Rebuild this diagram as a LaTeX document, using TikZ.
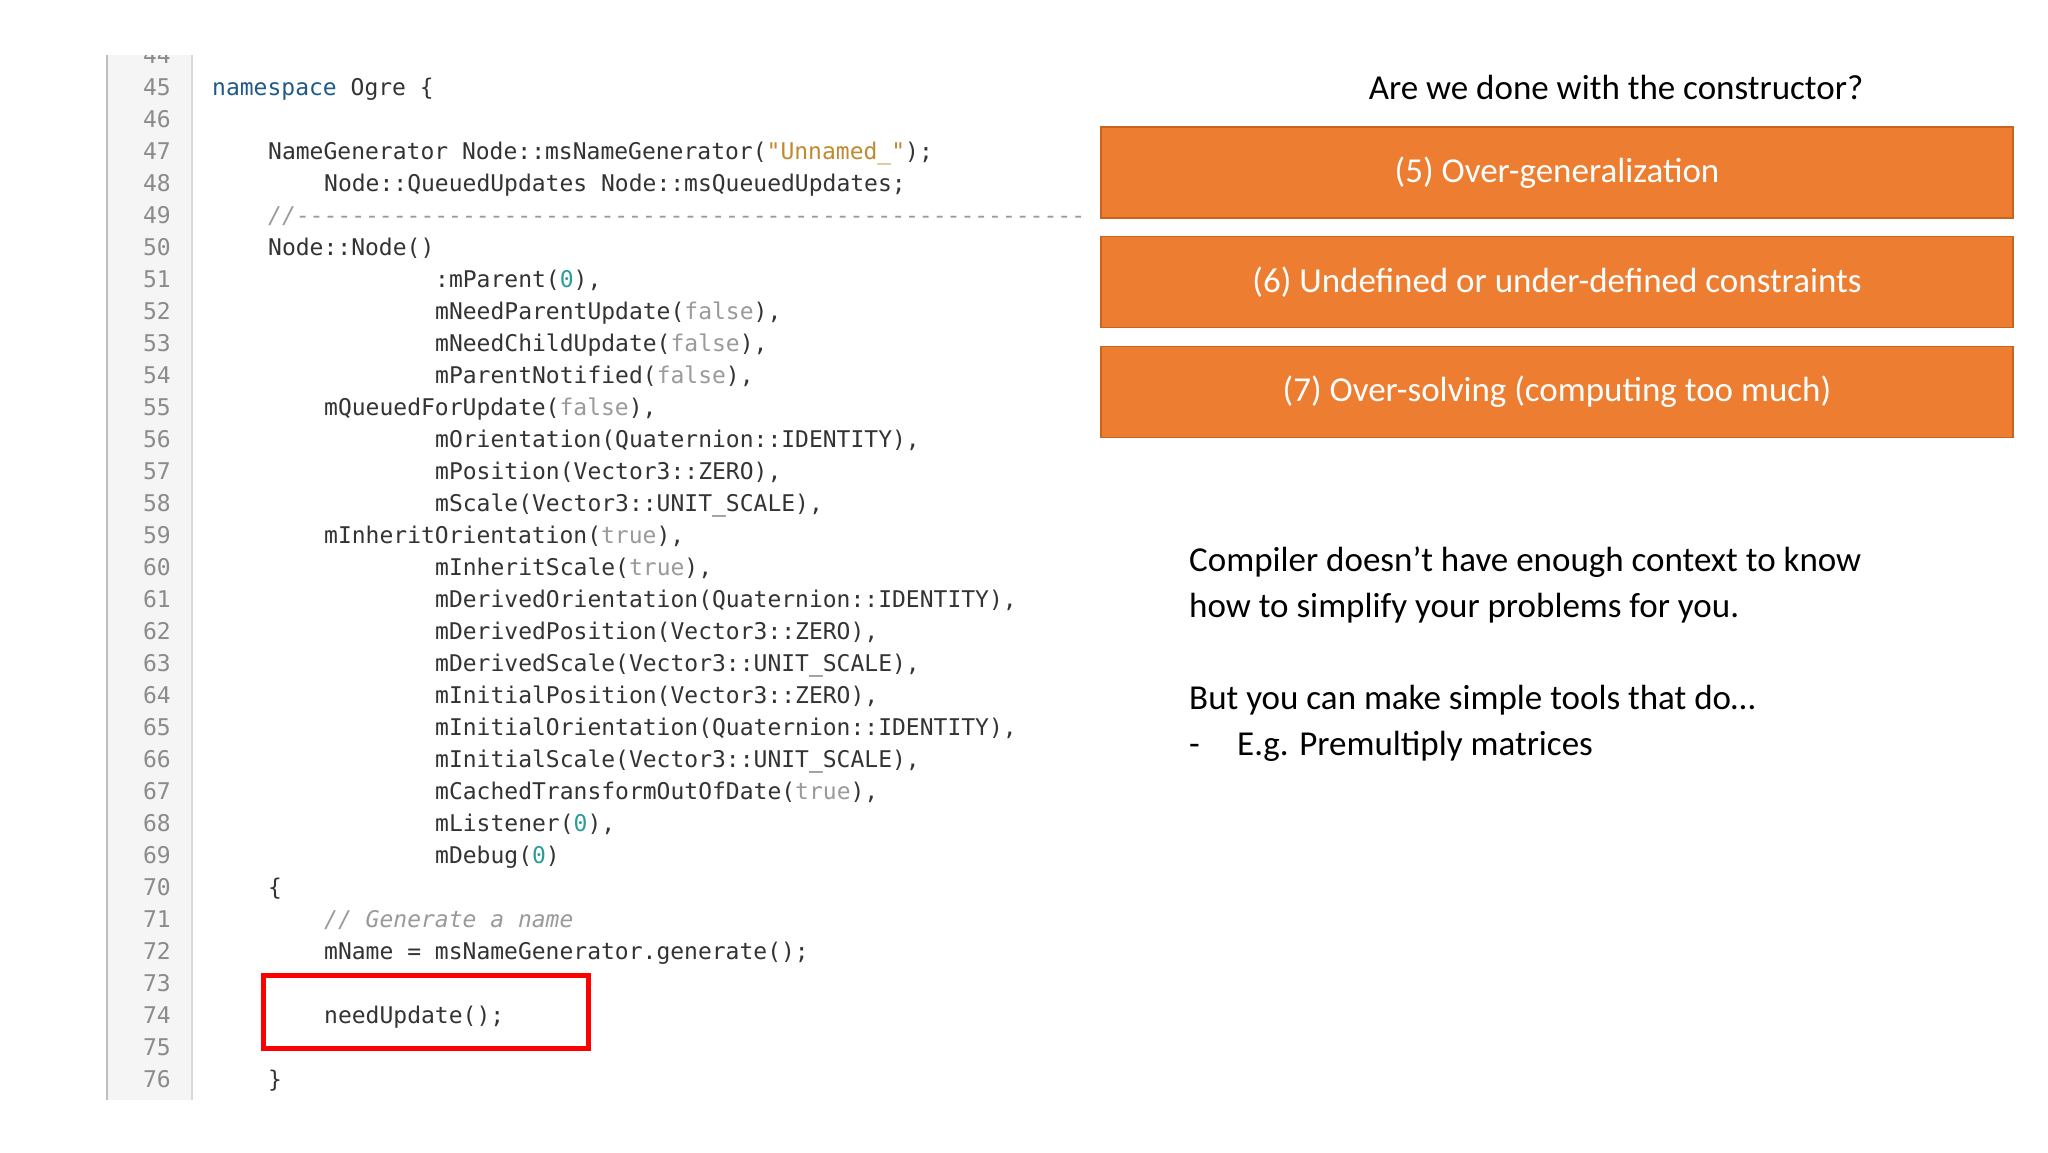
\documentclass[tikz,border=0pt]{standalone}
\usepackage{fontspec}
\setmainfont{Carlito}
\newfontfamily\codefont{DejaVu Sans Mono}
\definecolor{codegray}{HTML}{333333}
\definecolor{kwblue}{HTML}{1F5A8A}
\definecolor{strc}{HTML}{C08A30}
\definecolor{boolc}{HTML}{9A9A9A}
\definecolor{numc}{HTML}{2A9D9A}
\definecolor{cmtc}{HTML}{9A9A9A}
\definecolor{orangefill}{HTML}{ED7D31}
\definecolor{orangeline}{HTML}{C8641E}
\newcommand{\Fk}{\textcolor{boolc}{false}}
\newcommand{\Tk}{\textcolor{boolc}{true}}
\newcommand{\Zk}{\textcolor{numc}{0}}
\tikzset{
  lnum/.style={anchor=base east,inner sep=0pt,text=boolc!90!black,font=\codefont\fontsize{23}{23}\selectfont},
  code/.style={anchor=base west,inner sep=0pt,text=codegray,font=\codefont\fontsize{23}{23}\selectfont},
  obox/.style={draw=orangeline,line width=1.2pt,fill=orangefill,minimum width=912pt,minimum height=91pt,inner sep=0pt,text=white,font=\fontsize{35}{40}\selectfont},
  body/.style={anchor=base west,inner sep=0pt,text=black,font=\fontsize{35}{40}\selectfont}
}
\newcommand{\yb}[1]{\fpeval{95.5+(#1-45)*32}}
\begin{document}
\begin{tikzpicture}[x=1pt,y=-1pt]
\useasboundingbox (0,0) rectangle (2048,1152);
\fill[white] (0,0) rectangle (2048,1152);
% gutter
\fill[gray!8] (107,55) rectangle (192,1100);
\draw[gray!50,line width=1.5pt] (107,55) -- (107,1100);
\draw[gray!30,line width=1.5pt] (192,55) -- (192,1100);
\begin{scope}
\clip (0,55) rectangle (2048,1152);
\node[lnum] (n44) at (171,\yb{44}) {44};
\end{scope}
\foreach \n in {45,...,76}{\node[lnum] (n\n) at (171,\yb{\n}) {\n};}
% code lines: x = 212 + 14*indent
\node[code] (c45) at (212,\yb{45}) {\textcolor{kwblue}{namespace} Ogre \{};
\node[code] (c47) at (268,\yb{47}) {NameGenerator Node::msNameGenerator(\textcolor{strc}{"Unnamed\_"});};
\node[code] (c48) at (324,\yb{48}) {Node::QueuedUpdates Node::msQueuedUpdates;};
\node[code,text=cmtc] (c49) at (268,\yb{49}) {\textit{//}---------------------------------------------------------};
\node[code] (c50) at (268,\yb{50}) {Node::Node()};
\node[code] (c51) at (435,\yb{51}) {:mParent(\Zk),};
\node[code] (c52) at (435,\yb{52}) {mNeedParentUpdate(\Fk),};
\node[code] (c53) at (435,\yb{53}) {mNeedChildUpdate(\Fk),};
\node[code] (c54) at (435,\yb{54}) {mParentNotified(\Fk),};
\node[code] (c55) at (324,\yb{55}) {mQueuedForUpdate(\Fk),};
\node[code] (c56) at (435,\yb{56}) {mOrientation(Quaternion::IDENTITY),};
\node[code] (c57) at (435,\yb{57}) {mPosition(Vector3::ZERO),};
\node[code] (c58) at (435,\yb{58}) {mScale(Vector3::UNIT\_SCALE),};
\node[code] (c59) at (324,\yb{59}) {mInheritOrientation(\Tk),};
\node[code] (c60) at (435,\yb{60}) {mInheritScale(\Tk),};
\node[code] (c61) at (435,\yb{61}) {mDerivedOrientation(Quaternion::IDENTITY),};
\node[code] (c62) at (435,\yb{62}) {mDerivedPosition(Vector3::ZERO),};
\node[code] (c63) at (435,\yb{63}) {mDerivedScale(Vector3::UNIT\_SCALE),};
\node[code] (c64) at (435,\yb{64}) {mInitialPosition(Vector3::ZERO),};
\node[code] (c65) at (435,\yb{65}) {mInitialOrientation(Quaternion::IDENTITY),};
\node[code] (c66) at (435,\yb{66}) {mInitialScale(Vector3::UNIT\_SCALE),};
\node[code] (c67) at (435,\yb{67}) {mCachedTransformOutOfDate(\Tk),};
\node[code] (c68) at (435,\yb{68}) {mListener(\Zk),};
\node[code] (c69) at (435,\yb{69}) {mDebug(\Zk)};
\node[code] (c70) at (268,\yb{70}) {\{};
\node[code,text=cmtc] (c71) at (324,\yb{71}) {\textit{// Generate a name}};
\node[code] (c72) at (324,\yb{72}) {mName = msNameGenerator.generate();};
\node[code] (c74) at (324,\yb{74}) {needUpdate();};
\node[code] (c76) at (268,\yb{76}) {\}};
% red box
\draw[red,line width=5pt] (263,975) rectangle (588,1048);
% right side
\node[inner sep=0pt,font=\fontsize{35}{40}\selectfont] (title) at (1616,87) {Are we done with the constructor?};
\node[obox] (b5) at (1557,172.5) {(5) Over-generalization};
\node[obox] (b6) at (1557,282) {(6) Undefined or under-defined constraints};
\node[obox] (b7) at (1557,392) {(7) Over-solving (computing too much)};
\node[body] (t1) at (1189,571) {Compiler doesn’t have enough context to know};
\node[body] (t2) at (1189,617) {how to simplify your problems for you.};
\node[body] (t3) at (1189,709) {But you can make simple tools that do…};
\node[body] (t4) at (1189,755) {-};
\node[body] (t5) at (1237,755) {E.g. Premultiply matrices};
\end{tikzpicture}
\end{document}
